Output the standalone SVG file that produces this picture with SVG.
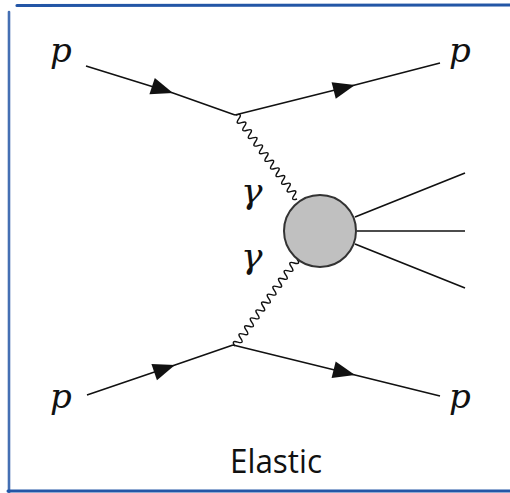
<svg xmlns="http://www.w3.org/2000/svg" width="510" height="493" viewBox="0 0 510 493">
<style>
.line{fill:none;stroke:#111;stroke-width:1.6}
.photon{fill:none;stroke:#111;stroke-width:1.4}
.lbl{font-family:'DejaVu Serif',serif;font-style:italic;font-size:34px;fill:#111}
.glbl{font-family:'DejaVu Serif',serif;font-style:italic;font-size:36px;fill:#111}
.cap{font-family:'Open Sans','Noto Sans',sans-serif;font-size:32px;fill:#111}
.frame{fill:none;stroke:#2356a6;stroke-linecap:round}
</style>
<defs>
<marker id="arr" markerUnits="userSpaceOnUse" markerWidth="30" markerHeight="20" viewBox="-24 -10 26 20" refX="0" refY="0" orient="auto">
<path d="M0,0 L-22,-8.5 L-22,8.5 Z" fill="#111"/>
</marker>
</defs>
<rect width="510" height="493" fill="#fff"/>
<g id="frame">
<path class="frame" d="M17,5.5 L510,5" stroke-width="3.2"/>
<path class="frame" d="M9,12 L9,493" stroke-width="2.6" opacity="0.85"/>
<path class="frame" d="M8,491 L510,491" stroke-width="3"/>
</g>
<g id="connectors">
<path class="line" d="M86,66 L173,93 L235,115" marker-mid="url(#arr)"/>
<path class="line" d="M235,115 L355,85 L440,63" marker-mid="url(#arr)"/>
<path class="line" d="M87,395 L175,365 L233,345" marker-mid="url(#arr)"/>
<path class="line" d="M233,345 L355,375 L440,396" marker-mid="url(#arr)"/>
<path class="photon" transform="translate(236,115) rotate(54)" d="M0,0 q2.36,-7 4.72,0 t4.72,0 t4.72,0 t4.72,0 t4.72,0 t4.72,0 t4.72,0 t4.72,0 t4.72,0 t4.72,0 t4.72,0 t4.72,0 t4.72,0 t4.72,0 t4.72,0 t4.72,0 t4.72,0 t4.72,0 t4.72,0 t4.72,0 t4.72,0 t4.72,0"/>
<path class="photon" transform="translate(297,259) rotate(125.5)" d="M0,0 q2.43,-7 4.86,0 t4.86,0 t4.86,0 t4.86,0 t4.86,0 t4.86,0 t4.86,0 t4.86,0 t4.86,0 t4.86,0 t4.86,0 t4.86,0 t4.86,0 t4.86,0 t4.86,0 t4.86,0 t4.86,0 t4.86,0 t4.86,0 t4.86,0 t4.86,0 t4.86,0"/>
<path class="line" d="M355,217 L465,173"/>
<path class="line" d="M357,231 L465,231"/>
<path class="line" d="M355,244 L465,288"/>
</g>
<g id="blob">
<circle cx="320" cy="231" r="36" fill="#c0c0c0" stroke="#333" stroke-width="2"/>
</g>
<g id="p-in-top"><text class="lbl" x="50" y="62">p</text></g>
<g id="p-out-top"><text class="lbl" x="449" y="62">p</text></g>
<g id="p-in-bottom"><text class="lbl" x="50" y="408">p</text></g>
<g id="p-out-bottom"><text class="lbl" x="449" y="408">p</text></g>
<g id="gamma-top"><text class="glbl" x="241" y="203">γ</text></g>
<g id="gamma-bottom"><text class="glbl" x="241" y="268">γ</text></g>
<g id="caption"><text class="cap" x="276" y="473" text-anchor="middle" textLength="92" lengthAdjust="spacingAndGlyphs">Elastic</text></g>
</svg>
